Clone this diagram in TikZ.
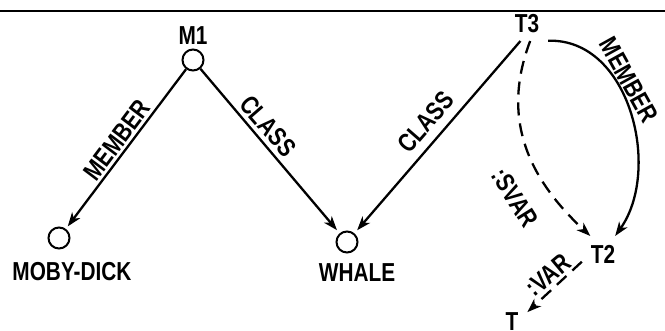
\documentclass[tikz,border=0pt]{standalone}
\usepackage{fontspec}
\setmainfont[FakeStretch=0.8]{Liberation Sans}
\usetikzlibrary{arrows.meta}
\begin{document}
\begin{tikzpicture}[x=1pt,y=-1pt,
  every node/.style={font=\fontsize{26}{28}\bfseries\selectfont},
  circ/.style={circle,draw,line width=2pt,minimum size=21pt,inner sep=0pt,outer sep=1pt},
  lbl/.style={inner sep=6pt,outer sep=3pt,text height=18pt,text depth=0pt},
  elbl/.style={inner sep=1pt,text height=18pt,text depth=0pt},
  edge/.style={line width=2.3pt,-{Stealth[length=14pt,width=10pt,inset=4pt]}},
  dashedge/.style={edge,dash pattern=on 13pt off 8pt}]
\useasboundingbox (0,0) rectangle (665,330);
\draw[line width=1.8pt] (0,11) -- (665,11);
% nodes
\node[circ] (m1) at (193,60) {};
\node[elbl] (m1l) at (193,35) {M1};
\node[circ] (moby) at (59,238) {};
\node[elbl] (mobyl) at (72,271) {MOBY-DICK};
\node[circ] (whale) at (347,242) {};
\node[elbl] (whalel) at (357,272) {WHALE};
\node[lbl] (t3) at (527,23) {T3};
\node[lbl] (t2) at (603,254) {T2};
\node[lbl] (t) at (512,321) {T};
% edges
\draw[edge,shorten >=3pt] (m1) -- (moby);
\draw[edge,shorten >=4pt] (m1) -- (whale);
\draw[edge,shorten >=4pt] (t3.250) -- (whale);
\draw[dashedge] (t3.280) .. controls (500,120) and (530,180) .. (t2.125);
\draw[edge] (t3.-40) .. controls (630,38) and (662,170) .. (t2.56);
\draw[dashedge] (t2.200) -- (t.30);
% edge labels
\node[elbl,rotate=53] (lmember1) at (117,140) {MEMBER};
\node[elbl,rotate=-49] (lclass1) at (268,126) {CLASS};
\node[elbl,rotate=49] (lclass2) at (426,122) {CLASS};
\node[elbl,rotate=-58] (lsvar) at (515,198) {:SVAR};
\node[elbl,rotate=-61] (lmember2) at (629,80) {MEMBER};
\node[elbl,rotate=40] (lvar) at (548,275) {:VAR};
\end{tikzpicture}
\end{document}
